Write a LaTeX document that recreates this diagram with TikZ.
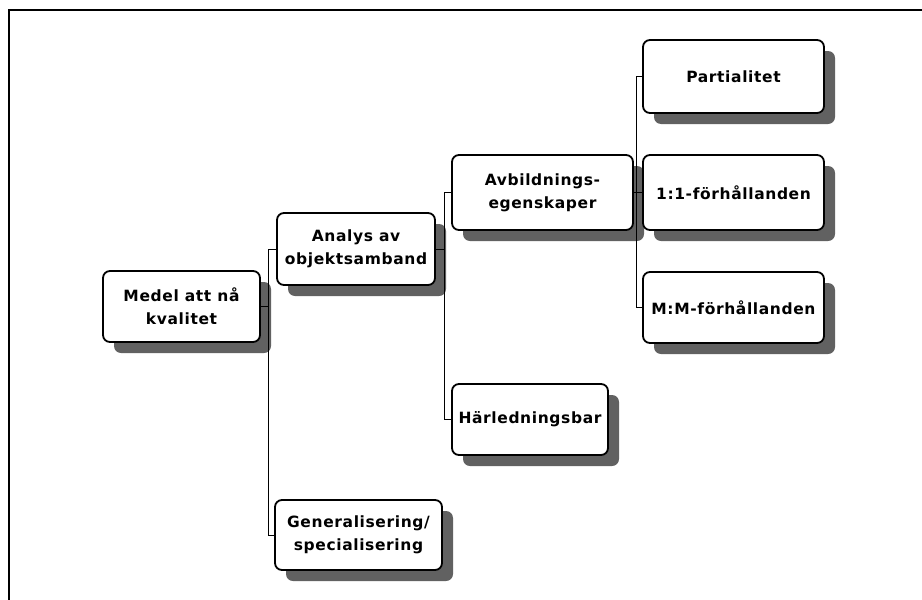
\documentclass[tikz,border=0pt]{standalone}
\usepackage{fontspec}
\setmainfont{DejaVu Sans}[BoldFont={DejaVu Sans Bold}]
\newfontfamily\boxfont{DejaVu Sans Bold}[LetterSpace=4]
\usetikzlibrary{shadows}
\tikzset{
  box/.style={draw=black, line width=1.8pt, fill=white, rounded corners=7pt,
    align=center, inner sep=0pt,
    font=\boxfont\fontsize{15.5}{23}\selectfont,
    drop shadow={shadow xshift=11pt, shadow yshift=-11pt, fill=black!62, opacity=1}},
  link/.style={draw=black, line width=0.9pt},
  frame/.style={draw=black, line width=2.2pt}
}
\begin{document}
\begin{tikzpicture}[x=1pt, y=-1pt]
  \useasboundingbox (0,0) rectangle (922,600);
  % page frame (only top and left edges fall inside)
  \draw[frame] (9,610) -- (9,10) -- (930,10);

  % branch trunks
  \coordinate (t1) at (268,0);
  \coordinate (t2) at (444,0);
  \coordinate (t3) at (636,0);

  % boxes
  \node[box, minimum width=157pt, minimum height=71pt] (medel) at (181.5,306.5) {Medel att nå\\kvalitet};
  \node[box, minimum width=158pt, minimum height=72pt] (analys) at (356,249) {Analys av\\objektsamband};
  \node[box, minimum width=167pt, minimum height=70pt] (gen) at (358.5,535) {Generalisering/\\specialisering};
  \node[box, minimum width=181pt, minimum height=75pt] (avb) at (542.5,192.5) {Avbildnings-\\egenskaper};
  \node[box, minimum width=156pt, minimum height=71pt] (harl) at (530,419.5) {Härledningsbar};
  \node[box, minimum width=181pt, minimum height=73pt] (part) at (733.5,76.5) {Partialitet};
  \node[box, minimum width=181pt, minimum height=75pt] (one) at (733.5,192.5) {1:1-förhållanden};
  \node[box, minimum width=181pt, minimum height=71pt] (mm) at (733.5,307.5) {M:M-förhållanden};

  % connectors
  \draw[link] (medel.east) -- (medel.east -| t1);
  \draw[link] (analys.west) -- (analys.west -| t1) -- (gen.west -| t1) -- (gen.west);
  \draw[link] (analys.east) -- (analys.east -| t2);
  \draw[link] (avb.west) -- (avb.west -| t2) -- (harl.west -| t2) -- (harl.west);
  \draw[link] (avb.east) -- (avb.east -| t3);
  \draw[link] (part.west) -- (part.west -| t3) -- (mm.west -| t3) -- (mm.west);
  \draw[link] (one.west) -- (one.west -| t3);
\end{tikzpicture}
\end{document}
